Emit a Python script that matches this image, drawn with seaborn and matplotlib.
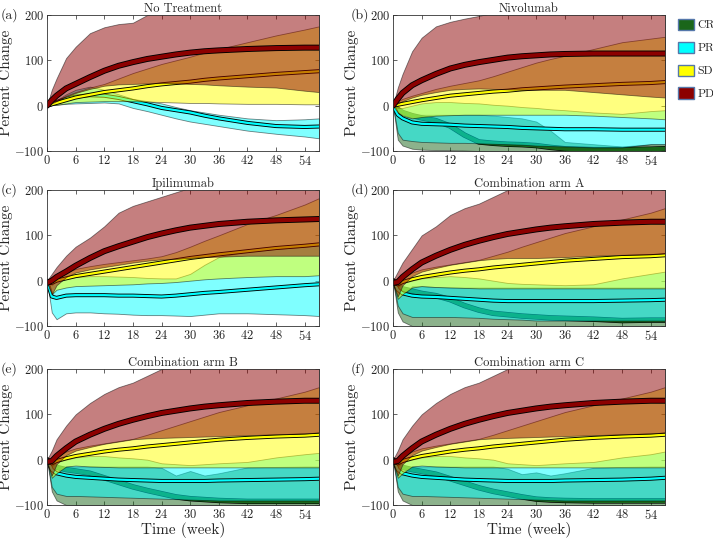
import matplotlib
matplotlib.use("Agg")
from matplotlib import pyplot as plt
import matplotlib.patheffects as pe
from matplotlib.patches import Patch
import seaborn as sns

# time grid (weeks)
T = [0, 1, 2, 4, 6, 9, 12, 15, 18, 21, 24, 27, 30, 33, 36, 42, 48, 54, 57]

# (a) No Treatment
a_pr_lo = [0, 1, 2, 4, 5, 6, 7, 5, -5, -12, -20, -28, -35, -40, -45, -55, -62, -68, -72]
a_pr_hi = [0, 6, 12, 25, 35, 42, 35, 25, 15, 10, 5, -3, -10, -15, -20, -28, -32, -30, -28]
a_pr_md = [0, 4, 8, 15, 20, 23, 22, 17, 10, 3, -5, -10, -15, -22, -28, -38, -45, -47, -46]
a_sd_lo = [0, 1, 2, 5, 8, 9, 10, 10, 10, 9, 8, 7, 6, 6, 5, 4, 4, 3, 3]
a_sd_hi = [0, 5, 10, 22, 30, 40, 48, 60, 72, 82, 92, 100, 108, 117, 125, 140, 155, 168, 175]
a_sd_md = [0, 3, 6, 12, 18, 24, 30, 34, 38, 43, 47, 50, 53, 57, 60, 65, 70, 74, 76]
a_pd_lo = [0, 5, 10, 20, 28, 37, 44, 47, 48, 49, 50, 49, 48, 47, 45, 42, 40, 33, 30]
a_pd_hi = [0, 35, 60, 105, 130, 160, 173, 180, 183, 200, 210, 220, 230, 240, 245, 255, 265, 270, 275]
a_pd_md = [0, 12, 22, 38, 48, 63, 77, 88, 96, 103, 108, 113, 117, 120, 122, 125, 127, 128, 128]

# (b) Nivolumab
b_cr_lo = [0, -75, -88, -95, -97, -98, -98, -99, -100, -100, -100, -100, -100, -100, -100, -100, -100, -100, -100]
b_cr_hi = [0, -15, -20, -20, -20, -20, -20, -20, -20, -22, -25, -28, -35, -55, -80, -85, -90, -85, -85]
b_cr_md = [0, -8, -15, -22, -27, -33, -45, -65, -80, -83, -85, -86, -88, -92, -95, -97, -97, -96, -95]
b_pr_lo = [0, -60, -75, -78, -80, -81, -82, -82, -83, -84, -85, -86, -88, -89, -90, -92, -92, -85, -85]
b_pr_hi = [0, -5, -5, 0, 5, 8, 8, 6, 5, 2, 0, -3, -5, -8, -10, -15, -18, -12, -10]
b_pr_md = [0, -20, -28, -37, -40, -41, -42, -44, -45, -46, -47, -49, -50, -51, -52, -52, -53, -53, -53]
b_sd_lo = [0, -15, -22, -28, -25, -22, -21, -20, -20, -20, -20, -20, -20, -20, -20, -22, -25, -28, -30]
b_sd_hi = [0, 10, 15, 22, 28, 37, 44, 50, 56, 65, 75, 85, 95, 103, 110, 125, 140, 148, 152]
b_sd_md = [0, 2, 4, 8, 12, 17, 22, 25, 28, 31, 33, 36, 38, 40, 42, 45, 48, 50, 52]
b_pd_lo = [0, 5, 10, 18, 24, 30, 35, 37, 38, 37, 36, 35, 35, 35, 35, 30, 25, 20, 18]
b_pd_hi = [0, 40, 70, 120, 150, 175, 185, 192, 198, 205, 210, 215, 220, 225, 230, 240, 250, 255, 258]
b_pd_md = [0, 15, 28, 45, 56, 70, 82, 90, 96, 101, 106, 109, 111, 113, 114, 115, 115, 115, 115]

# (c) Ipilimumab
c_pr_lo = [0, -70, -85, -72, -70, -70, -72, -73, -75, -76, -76, -77, -78, -75, -72, -72, -74, -76, -78]
c_pr_hi = [0, -10, 0, 5, 8, 10, 10, 9, 8, 6, 5, 5, 15, 35, 52, 65, 70, 75, 78]
c_pr_md = [0, -35, -38, -33, -32, -32, -32, -33, -33, -34, -35, -33, -30, -27, -25, -20, -15, -10, -8]
c_sd_lo = [0, -30, -20, -15, -12, -11, -10, -9, -8, -6, -5, -3, 0, 3, 5, 8, 10, 10, 12]
c_sd_hi = [0, 3, 8, 18, 26, 32, 37, 41, 45, 49, 54, 63, 75, 88, 100, 125, 145, 168, 182]
c_sd_md = [-5, -5, 0, 5, 10, 15, 20, 25, 30, 35, 40, 45, 50, 54, 58, 65, 72, 77, 80]
c_pd_lo = [-5, -30, -10, 8, 18, 25, 30, 35, 40, 44, 47, 48, 50, 52, 53, 55, 55, 55, 55]
c_pd_hi = [0, 15, 30, 55, 75, 95, 120, 150, 165, 175, 185, 195, 205, 215, 225, 240, 250, 260, 265]
c_pd_md = [-5, 0, 8, 20, 33, 50, 65, 76, 86, 96, 104, 111, 117, 121, 125, 130, 133, 135, 136]

# (d) Combination arm A
d_cr_lo = [0, -70, -90, -100, -100, -100, -100, -100, -100, -100, -100, -100, -100, -100, -100, -100, -100, -100, -100]
d_cr_hi = [0, -20, -30, -12, -12, -14, -15, -15, -15, -15, -15, -15, -15, -15, -15, -15, -15, -15, -15]
d_cr_md = [0, -10, -18, -23, -28, -33, -42, -55, -65, -72, -75, -78, -80, -82, -83, -85, -88, -87, -87]
d_pr_lo = [0, -55, -72, -80, -80, -80, -80, -81, -82, -84, -85, -86, -88, -88, -88, -88, -88, -88, -88]
d_pr_hi = [0, -15, -5, 0, 5, 8, 10, 8, 5, 0, -5, -7, -8, -9, -10, -8, 5, 15, 20]
d_pr_md = [0, -20, -28, -33, -35, -36, -38, -40, -42, -44, -45, -45, -45, -45, -45, -45, -44, -43, -42]
d_sd_lo = [-5, -40, -30, -15, -12, -14, -15, -16, -17, -17, -17, -17, -17, -17, -17, -17, -17, -17, -17]
d_sd_hi = [0, 3, 8, 18, 25, 31, 36, 41, 46, 55, 64, 75, 85, 95, 105, 120, 135, 150, 160]
d_sd_md = [-5, -8, -3, 3, 8, 13, 18, 22, 25, 29, 32, 35, 38, 41, 44, 48, 52, 54, 56]
d_pd_lo = [-5, -35, -10, 10, 20, 28, 35, 40, 45, 48, 50, 50, 50, 51, 52, 55, 57, 58, 60]
d_pd_hi = [0, 20, 40, 70, 100, 120, 145, 160, 170, 185, 200, 210, 218, 225, 230, 240, 250, 255, 260]
d_pd_md = [-5, -3, 8, 25, 40, 55, 68, 79, 88, 96, 103, 108, 113, 117, 120, 125, 128, 130, 130]

# (e) Combination arm B
e_cr_lo = [0, -70, -90, -100, -100, -100, -100, -100, -100, -100, -100, -100, -100, -100, -100, -100, -100, -100, -100]
e_cr_hi = [0, -20, -30, -15, -15, -15, -15, -15, -15, -15, -18, -35, -25, -35, -30, -17, -16, -15, -15]
e_cr_md = [0, -10, -17, -22, -25, -30, -40, -50, -60, -68, -75, -82, -86, -88, -90, -92, -92, -92, -92]
e_pr_lo = [0, -60, -75, -80, -80, -81, -82, -83, -84, -85, -86, -87, -88, -89, -90, -90, -90, -90, -90]
e_pr_hi = [0, -15, -5, 0, 5, 8, 8, 5, 3, 0, -8, -10, -12, -10, -8, -5, 5, 12, 15]
e_pr_md = [0, -22, -30, -35, -38, -40, -42, -44, -45, -46, -47, -47, -47, -47, -46, -45, -44, -43, -42]
e_sd_lo = [-5, -40, -30, -15, -13, -15, -16, -17, -17, -17, -17, -17, -17, -17, -17, -17, -17, -17, -17]
e_sd_hi = [0, 3, 8, 18, 25, 31, 36, 41, 46, 55, 65, 75, 85, 95, 105, 120, 135, 150, 160]
e_sd_md = [-5, -8, -3, 3, 8, 13, 18, 22, 25, 29, 32, 35, 38, 41, 44, 48, 51, 53, 55]
e_pd_lo = [-5, -35, -10, 10, 20, 28, 35, 40, 45, 47, 48, 49, 50, 51, 52, 54, 56, 58, 60]
e_pd_hi = [0, 20, 45, 75, 100, 125, 145, 160, 170, 185, 200, 210, 218, 225, 230, 240, 250, 255, 260]
e_pd_md = [-5, -3, 8, 25, 40, 55, 68, 79, 88, 96, 103, 108, 113, 117, 120, 125, 128, 130, 130]

# (f) Combination arm C
f_cr_lo = [0, -70, -90, -100, -100, -100, -100, -100, -100, -100, -100, -100, -100, -100, -100, -100, -100, -100, -100]
f_cr_hi = [0, -20, -30, -15, -15, -15, -15, -15, -15, -15, -20, -32, -28, -35, -30, -18, -16, -15, -15]
f_cr_md = [0, -10, -17, -22, -26, -32, -42, -52, -62, -70, -76, -82, -87, -89, -90, -91, -91, -91, -91]
f_pr_lo = [0, -60, -75, -80, -80, -81, -82, -83, -84, -85, -86, -87, -88, -89, -90, -90, -90, -90, -90]
f_pr_hi = [0, -15, -5, 0, 5, 8, 8, 5, 3, 0, -8, -10, -12, -10, -8, -5, 5, 12, 18]
f_pr_md = [0, -22, -30, -35, -38, -40, -42, -44, -45, -46, -47, -47, -47, -47, -46, -45, -44, -42, -40]
f_sd_lo = [-5, -40, -30, -15, -13, -15, -16, -17, -17, -17, -17, -17, -17, -17, -17, -17, -17, -17, -17]
f_sd_hi = [0, 3, 8, 18, 25, 31, 36, 41, 46, 55, 65, 75, 85, 95, 105, 120, 135, 150, 160]
f_sd_md = [-5, -8, -3, 3, 8, 13, 18, 22, 25, 29, 32, 35, 38, 41, 44, 48, 51, 53, 55]
f_pd_lo = [-5, -35, -10, 10, 20, 28, 35, 40, 45, 47, 48, 49, 50, 51, 52, 54, 56, 58, 60]
f_pd_hi = [0, 20, 45, 75, 100, 125, 145, 160, 170, 185, 200, 210, 218, 225, 230, 240, 250, 255, 260]
f_pd_md = [-5, -3, 8, 25, 40, 55, 68, 79, 88, 96, 103, 108, 113, 117, 120, 125, 128, 130, 130]

titles = ["No Treatment", "Nivolumab", "Ipilimumab",
          "Combination arm A", "Combination arm B", "Combination arm C"]
panel_tags = ["(a)", "(b)", "(c)", "(d)", "(e)", "(f)"]
groups = ["CR", "PR", "SD", "PD"]
colors = {"CR": (0.1, 0.4, 0.1), "PR": (0.0, 1.0, 1.0),
          "SD": (1.0, 1.0, 0.0), "PD": (0.55, 0.0, 0.0)}
line_w = {"CR": 3.0, "PR": 1.6, "SD": 1.6, "PD": 3.0}

panels = [
    {"PR": (a_pr_lo, a_pr_hi, a_pr_md), "SD": (a_sd_lo, a_sd_hi, a_sd_md), "PD": (a_pd_lo, a_pd_hi, a_pd_md)},
    {"CR": (b_cr_lo, b_cr_hi, b_cr_md), "PR": (b_pr_lo, b_pr_hi, b_pr_md), "SD": (b_sd_lo, b_sd_hi, b_sd_md), "PD": (b_pd_lo, b_pd_hi, b_pd_md)},
    {"PR": (c_pr_lo, c_pr_hi, c_pr_md), "SD": (c_sd_lo, c_sd_hi, c_sd_md), "PD": (c_pd_lo, c_pd_hi, c_pd_md)},
    {"CR": (d_cr_lo, d_cr_hi, d_cr_md), "PR": (d_pr_lo, d_pr_hi, d_pr_md), "SD": (d_sd_lo, d_sd_hi, d_sd_md), "PD": (d_pd_lo, d_pd_hi, d_pd_md)},
    {"CR": (e_cr_lo, e_cr_hi, e_cr_md), "PR": (e_pr_lo, e_pr_hi, e_pr_md), "SD": (e_sd_lo, e_sd_hi, e_sd_md), "PD": (e_pd_lo, e_pd_hi, e_pd_md)},
    {"CR": (f_cr_lo, f_cr_hi, f_cr_md), "PR": (f_pr_lo, f_pr_hi, f_pr_md), "SD": (f_sd_lo, f_sd_hi, f_sd_md), "PD": (f_pd_lo, f_pd_hi, f_pd_md)},
]

sns.set_style("ticks")
plt.rcParams["font.family"] = "serif"
plt.rcParams["font.serif"] = ["cmr10", "DejaVu Serif"]
plt.rcParams["mathtext.fontset"] = "cm"
plt.rcParams["axes.formatter.use_mathtext"] = True
plt.rcParams["axes.unicode_minus"] = False

fig = plt.figure(figsize=(7.13, 5.4), dpi=100)
W, H = 713.0, 540.0
lefts = [47, 393]
tops = [15, 190, 369]
aw, ah = 272, 136

for i, data in enumerate(panels):
    r, c = divmod(i, 2)
    ax = fig.add_axes([lefts[c] / W, 1 - (tops[r] + ah) / H, aw / W, ah / H])
    z = 1
    for g in groups:
        if g not in data:
            continue
        lo, hi, md = data[g]
        col = colors[g]
        # band first, then its median, so later bands tint earlier medians
        ax.fill_between(T, lo, hi, facecolor=col, edgecolor="k", lw=0.6, alpha=0.5, zorder=z)
        lw = line_w[g]
        edge = 0.9 if g == "CR" else 1.3
        sns.lineplot(x=T, y=md, ax=ax, color=col, lw=lw, zorder=z + 0.5,
                     path_effects=[pe.Stroke(linewidth=lw + edge, foreground="k"), pe.Normal()])
        z += 1
    ax.set_xlim(0, 57)
    ax.set_ylim(-100, 200)
    ax.set_xticks(range(0, 55, 6))
    ax.set_yticks([-100, 0, 100, 200])
    ax.tick_params(direction="in", top=True, right=True, labelsize=9, length=3, width=0.5, pad=2)
    for s in ax.spines.values():
        s.set_linewidth(0.6)
        s.set_color("#333333")
        s.set_zorder(10)
    ax.set_title(titles[i], fontsize=9, pad=2)
    ax.set_ylabel("Percent Change", fontsize=11, labelpad=1)
    if r == 2:
        ax.set_xlabel("Time (week)", fontsize=11, labelpad=0)
    else:
        ax.set_xlabel("")
    ax.text(-0.17 if c == 0 else -0.155, 1.0, panel_tags[i], transform=ax.transAxes,
            fontsize=10, ha="left", va="center")

handles = [Patch(facecolor=colors[g], edgecolor="#5577aa", lw=1.0, label=g) for g in groups]
fig.legend(handles=handles, loc="upper left", bbox_to_anchor=(673 / W, 1 - 14 / H),
           frameon=False, fontsize=8.5, handlelength=1.35, handleheight=1.1,
           labelspacing=0.95, handletextpad=0.3, borderaxespad=0)

plt.savefig("out.png", dpi=100)
